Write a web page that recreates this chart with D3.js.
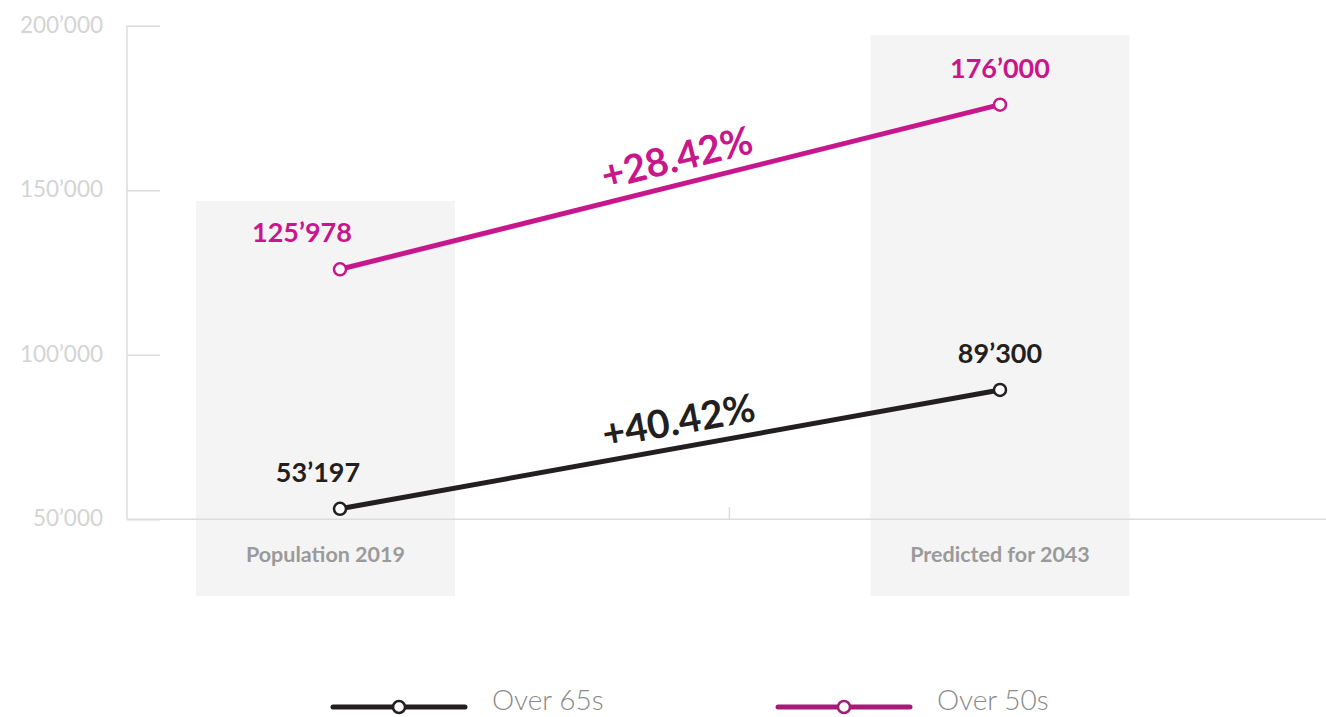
<!DOCTYPE html>
<html lang="en">
<head>
  <meta charset="UTF-8">
  <title>Population over 50 and over 65</title>
  <script src="https://d3js.org/d3.v7.min.js"></script>
  <style>
    body { margin: 0; background: #fff; }
    text { font-family: Lato, "Open Sans", sans-serif; }
  </style>
</head>
<body>
  <svg width="1326" height="717"></svg>

  <script>
    // Data
    const categories = ["Population 2019", "Predicted for 2043"];
    const over65 = [53197, 89300];
    const over50 = [125978, 176000];
    const growth = ["+40.42%", "+28.42%"];   // [over65, over50]
    const yTicks = [50000, 100000, 150000, 200000];
    const legendLabels = ["Over 65s", "Over 50s"];

    // Grey background panels behind each category (value units for top)
    const panelTop = [146700, 197200];
    const panelShift = [-0.022, 0];   // panel centre offset, in category units

    const colors = { over65: "#231f20", over50: "#c8168c", legend50: "#a51b78" };

    const svg = d3.select("svg");
    const width = +svg.attr("width");

    // Scales
    const x = d3.scaleLinear().domain([0, 1]).range([340, 1000]);
    const y = d3.scaleLinear().domain([50000, 200000]).range([519.3, 25.7]);
    const axisLeftX = 127;
    const panelWidth = 259;
    const panelBottom = 596;

    const fmt = v => d3.format(",")(v).replace(/,/g, "\u2019");

    // Panels
    svg.append("g").selectAll("rect")
      .data(categories)
      .join("rect")
      .attr("x", (d, i) => x(i + panelShift[i]) - panelWidth / 2)
      .attr("y", (d, i) => y(panelTop[i]))
      .attr("width", panelWidth)
      .attr("height", (d, i) => panelBottom - y(panelTop[i]))
      .attr("fill", "#f4f4f4");

    // Category labels
    svg.append("g").selectAll("text")
      .data(categories)
      .join("text")
      .attr("x", (d, i) => x(i + panelShift[i]))
      .attr("y", 562)
      .attr("text-anchor", "middle")
      .attr("fill", "#9a9a9a")
      .style("font-size", "21.5px")
      .style("font-weight", 700)
      .text(d => d);

    // Y axis
    const yAxis = svg.append("g")
      .attr("transform", "translate(" + axisLeftX + ",0)")
      .call(d3.axisRight(y).tickValues(yTicks).tickSize(33).tickFormat(""));
    yAxis.select(".domain").remove();
    yAxis.selectAll(".tick line").attr("stroke", "#dcdcdc").attr("stroke-width", 1.5);
    yAxis.append("line")
      .attr("y1", y(200000)).attr("y2", y(50000))
      .attr("stroke", "#dcdcdc").attr("stroke-width", 1.5);

    svg.append("g").selectAll("text")
      .data(yTicks)
      .join("text")
      .attr("x", 103)
      .attr("y", d => y(d) - 1)
      .attr("dy", "0.35em")
      .attr("text-anchor", "end")
      .attr("fill", "#d4d4d4")
      .style("font-size", "22.5px")
      .text(fmt);

    // X axis baseline + middle tick
    svg.append("line")
      .attr("x1", axisLeftX).attr("x2", width)
      .attr("y1", y(50000)).attr("y2", y(50000))
      .attr("stroke", "#dcdcdc").attr("stroke-width", 1.5);
    svg.append("line")
      .attr("x1", x(0.59)).attr("x2", x(0.59))
      .attr("y1", y(50000)).attr("y2", y(50000) - 12)
      .attr("stroke", "#dcdcdc").attr("stroke-width", 1.5);

    // Series
    const series = [
      { key: "over65", values: over65, color: colors.over65, label: growth[0], labelDx: [-22, 0] },
      { key: "over50", values: over50, color: colors.over50, label: growth[1], labelDx: [-38, 0] }
    ];

    const line = d3.line().x((d, i) => x(i)).y(d => y(d));

    series.forEach(s => {
      const g = svg.append("g");
      g.append("path")
        .datum(s.values)
        .attr("fill", "none")
        .attr("stroke", s.color)
        .attr("stroke-width", 5)
        .attr("stroke-linecap", "round")
        .attr("d", line);

      g.selectAll("circle")
        .data(s.values)
        .join("circle")
        .attr("cx", (d, i) => x(i))
        .attr("cy", d => y(d))
        .attr("r", 6)
        .attr("fill", "#fff")
        .attr("stroke", s.color)
        .attr("stroke-width", 2.5);

      g.selectAll("text.value")
        .data(s.values)
        .join("text")
        .attr("class", "value")
        .attr("x", (d, i) => x(i) + s.labelDx[i])
        .attr("y", d => y(d) - 27)
        .attr("text-anchor", "middle")
        .attr("fill", s.color)
        .style("font-size", "27px")
        .style("font-weight", 700)
        .text(fmt);

      // growth label along the line
      const t = 0.52;
      const px = x(t);
      const py = y(s.values[0] + (s.values[1] - s.values[0]) * t);
      const angle = Math.atan2(y(s.values[1]) - y(s.values[0]), x(1) - x(0)) * 180 / Math.PI;
      g.append("text")
        .attr("transform", "translate(" + px + "," + py + ") rotate(" + angle + ")")
        .attr("y", -13)
        .attr("text-anchor", "middle")
        .attr("fill", s.color)
        .style("font-size", "39px")
        .style("font-weight", 700)
        .text(s.label);
    });

    // Legend
    const legendItems = [
      { label: legendLabels[0], color: colors.over65, x0: 333 },
      { label: legendLabels[1], color: colors.legend50, x0: 778 }
    ];
    const legend = svg.append("g").selectAll("g")
      .data(legendItems)
      .join("g")
      .attr("transform", d => "translate(" + d.x0 + ",707)");
    legend.append("line")
      .attr("x1", 0).attr("x2", 132)
      .attr("stroke", d => d.color)
      .attr("stroke-width", 5)
      .attr("stroke-linecap", "round");
    legend.append("circle")
      .attr("cx", 66)
      .attr("r", 6)
      .attr("fill", "#fff")
      .attr("stroke", d => d.color)
      .attr("stroke-width", 2.5);
    legend.append("text")
      .attr("x", 159)
      .attr("y", 3)
      .attr("fill", "#8a8a8a")
      .style("font-size", "28px")
      .style("font-weight", 300)
      .text(d => d.label);
  </script>
</body>
</html>
